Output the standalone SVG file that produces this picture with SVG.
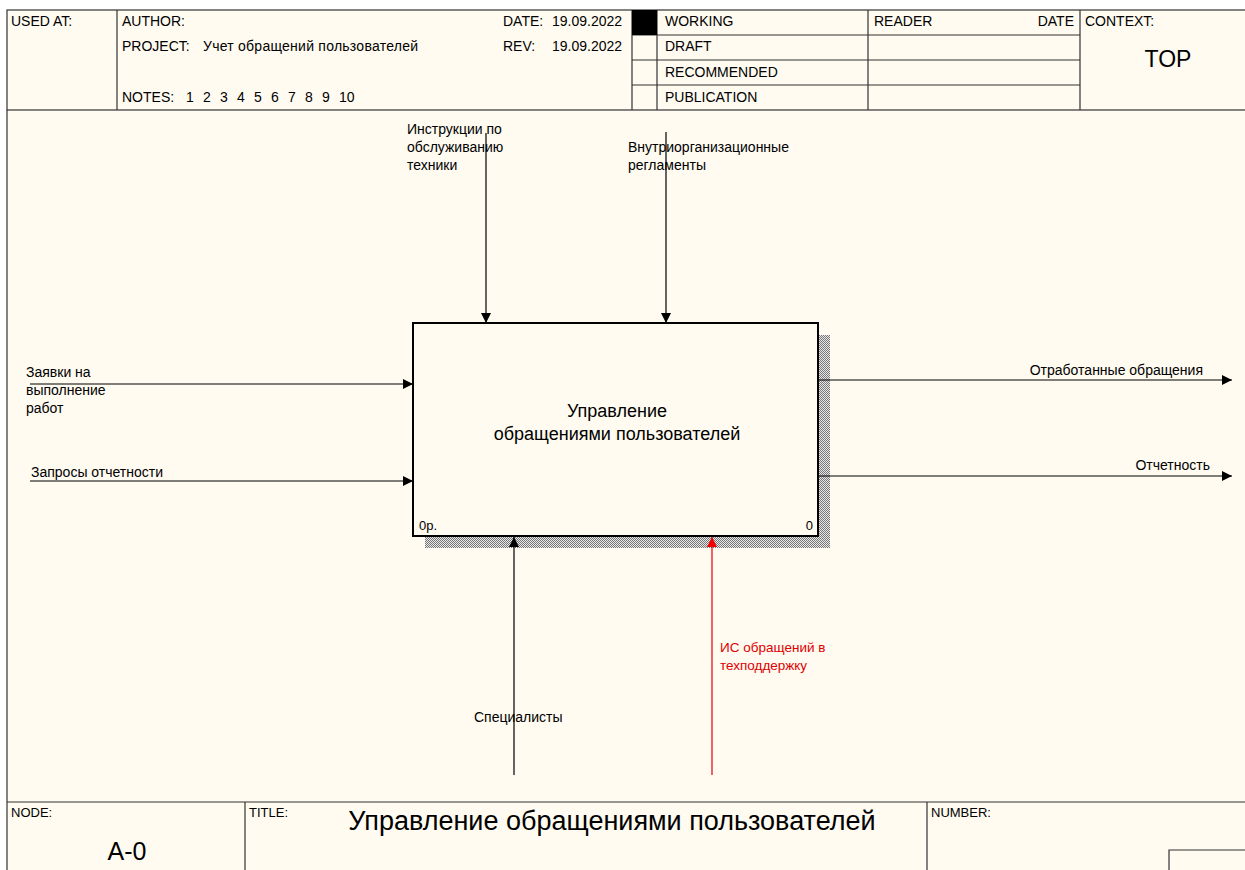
<svg xmlns="http://www.w3.org/2000/svg" width="1245" height="870" viewBox="0 0 1245 870">
<style>
text{font-family:"Liberation Sans",Arial,sans-serif;fill:#000}
.h{font-size:14px}
.l{font-size:14px}
.r{fill:#e00000;font-size:13.5px}
.frame{fill:none;stroke:#333;stroke-width:1.2}
.arr{stroke:#000;stroke-width:1.2;fill:none}
.red{stroke:#e00000;stroke-width:1.2;fill:none}
</style>
<defs>
<marker id="ah" viewBox="0 0 10 10" refX="10" refY="5" markerWidth="12" markerHeight="10" markerUnits="userSpaceOnUse" orient="auto">
<path d="M0,0 L10,5 L0,10 z" fill="#000"/>
</marker>
<marker id="ahr" viewBox="0 0 10 10" refX="10" refY="5" markerWidth="12" markerHeight="10" markerUnits="userSpaceOnUse" orient="auto">
<path d="M0,0 L10,5 L0,10 z" fill="#f00000"/>
</marker>
<pattern id="hatch" width="2" height="2" patternUnits="userSpaceOnUse">
<rect width="2" height="2" fill="#e8e8e8"/>
<rect width="1" height="1" fill="#777"/>
<rect x="1" y="1" width="1" height="1" fill="#777"/>
</pattern>
</defs>
<rect width="1245" height="870" fill="#fff"/>
<rect x="7" y="10" width="1238" height="860" fill="#fffbf1"/>
<g id="header">
<rect x="7" y="10" width="1245" height="100" class="frame"/>
<line x1="117" y1="10" x2="117" y2="110" class="frame"/>
<line x1="632" y1="10" x2="632" y2="110" class="frame"/>
<line x1="657" y1="10" x2="657" y2="110" class="frame"/>
<line x1="868" y1="10" x2="868" y2="110" class="frame"/>
<line x1="1080" y1="10" x2="1080" y2="110" class="frame"/>
<line x1="632" y1="35" x2="1080" y2="35" class="frame"/>
<line x1="632" y1="60" x2="1080" y2="60" class="frame"/>
<line x1="632" y1="85" x2="1080" y2="85" class="frame"/>
<rect x="632" y="10" width="25" height="25" fill="#000"/>
<text x="11" y="26" class="h">USED AT:</text>
<text x="122" y="26" class="h">AUTHOR:</text>
<text x="122" y="51" class="h">PROJECT:</text>
<text x="203" y="51" class="h" textLength="215">Учет обращений пользователей</text>
<text y="102" class="h"><tspan x="122">NOTES:</tspan><tspan x="186">1</tspan><tspan x="203">2</tspan><tspan x="220">3</tspan><tspan x="237">4</tspan><tspan x="254">5</tspan><tspan x="271">6</tspan><tspan x="288">7</tspan><tspan x="305">8</tspan><tspan x="322">9</tspan><tspan x="339">10</tspan></text>
<text x="503" y="26" class="h">DATE:</text>
<text x="552" y="26" class="h">19.09.2022</text>
<text x="503" y="51" class="h">REV:</text>
<text x="552" y="51" class="h">19.09.2022</text>
<text x="665" y="26" class="h">WORKING</text>
<text x="665" y="51" class="h">DRAFT</text>
<text x="665" y="77" class="h">RECOMMENDED</text>
<text x="665" y="102" class="h">PUBLICATION</text>
<text x="874" y="26" class="h">READER</text>
<text x="1074" y="26" class="h" text-anchor="end">DATE</text>
<text x="1085" y="26" class="h">CONTEXT:</text>
<text x="1168" y="67" font-size="23" text-anchor="middle">TOP</text>
</g>
<g id="footer">
<line x1="7" y1="110" x2="7" y2="870" class="frame"/>
<line x1="7" y1="802" x2="1245" y2="802" class="frame"/>
<line x1="245" y1="802" x2="245" y2="870" class="frame"/>
<line x1="927" y1="802" x2="927" y2="870" class="frame"/>
<polyline points="1169,870 1169,850 1245,850" class="frame"/>
<text x="11" y="817" font-size="13">NODE:</text>
<text x="127" y="860" font-size="25" text-anchor="middle">A-0</text>
<text x="249" y="817" font-size="13">TITLE:</text>
<text x="612" y="830" font-size="27" text-anchor="middle">Управление обращениями пользователей</text>
<text x="931" y="817" font-size="13">NUMBER:</text>
</g>
<g id="box">
<rect x="425" y="335" width="405" height="213" fill="url(#hatch)"/>
<rect x="413" y="323" width="405" height="213" fill="#fffbf1" stroke="#000" stroke-width="2"/>
<text x="617" y="417" font-size="18" text-anchor="middle">Управление</text>
<text x="617" y="440" font-size="18" text-anchor="middle">обращениями пользователей</text>
<text x="419" y="530" font-size="13">0р.</text>
<text x="813" y="530" font-size="13" text-anchor="end">0</text>
</g>
<g id="connectors">
<line x1="30" y1="384" x2="413" y2="384" class="arr" marker-end="url(#ah)"/>
<line x1="30" y1="481" x2="413" y2="481" class="arr" marker-end="url(#ah)"/>
<line x1="486" y1="133" x2="486" y2="323" class="arr" marker-end="url(#ah)"/>
<line x1="666" y1="132" x2="666" y2="323" class="arr" marker-end="url(#ah)"/>
<line x1="818" y1="380" x2="1232" y2="380" class="arr" marker-end="url(#ah)"/>
<line x1="818" y1="476" x2="1232" y2="476" class="arr" marker-end="url(#ah)"/>
<line x1="514" y1="775" x2="514" y2="537" class="arr" marker-end="url(#ah)"/>
<line x1="712" y1="775" x2="712" y2="537" class="red" marker-end="url(#ahr)"/>
</g>
<g id="labels">
<text x="26" y="377" class="l">Заявки на</text>
<text x="26" y="395" class="l">выполнение</text>
<text x="26" y="413" class="l">работ</text>
<text x="31" y="477" class="l">Запросы отчетности</text>
<text x="407" y="134" class="l">Инструкции по</text>
<text x="407" y="152" class="l">обслуживанию</text>
<text x="407" y="170" class="l">техники</text>
<text x="628" y="152" class="l">Внутриорганизационные</text>
<text x="628" y="170" class="l">регламенты</text>
<text x="1203" y="375" class="l" text-anchor="end">Отработанные обращения</text>
<text x="1210" y="470" class="l" text-anchor="end">Отчетность</text>
<text x="474" y="722" class="l">Специалисты</text>
<text x="720" y="652" class="l r">ИС обращений в</text>
<text x="720" y="670" class="l r">техподдержку</text>
</g>
</svg>
